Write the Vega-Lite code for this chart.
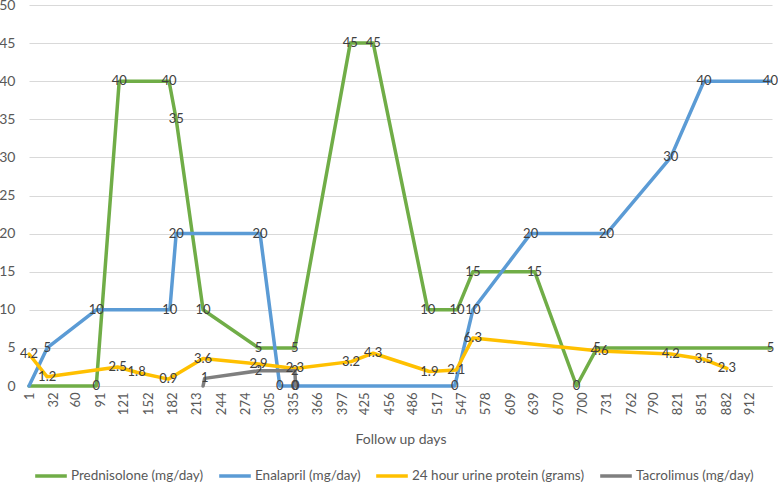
{
  "$schema": "https://vega.github.io/schema/vega-lite/v6.json",
  "width": 743,
  "height": 381,
  "autosize": {"type": "none"},
  "padding": {"left": 29, "top": 5, "right": 6, "bottom": 97},
  "background": "white",
  "config": {
    "view": {"stroke": null},
    "font": "Lato",
    "axis": {"labelFont": "Lato", "titleFont": "Lato", "labelColor": "#595959", "titleColor": "#595959"}
  },
  "data": {
    "values": [
      {"series": "Prednisolone (mg/day)", "day": 1, "value": 0, "lbl": false},
      {"series": "Prednisolone (mg/day)", "day": 86, "value": 0, "lbl": true},
      {"series": "Prednisolone (mg/day)", "day": 115, "value": 40, "lbl": true},
      {"series": "Prednisolone (mg/day)", "day": 178, "value": 40, "lbl": true},
      {"series": "Prednisolone (mg/day)", "day": 187, "value": 35, "lbl": true},
      {"series": "Prednisolone (mg/day)", "day": 221, "value": 10, "lbl": true},
      {"series": "Prednisolone (mg/day)", "day": 291, "value": 5, "lbl": true},
      {"series": "Prednisolone (mg/day)", "day": 337, "value": 5, "lbl": true},
      {"series": "Prednisolone (mg/day)", "day": 407, "value": 45, "lbl": true},
      {"series": "Prednisolone (mg/day)", "day": 436, "value": 45, "lbl": true},
      {"series": "Prednisolone (mg/day)", "day": 505, "value": 10, "lbl": true},
      {"series": "Prednisolone (mg/day)", "day": 542, "value": 10, "lbl": true},
      {"series": "Prednisolone (mg/day)", "day": 562, "value": 15, "lbl": true},
      {"series": "Prednisolone (mg/day)", "day": 640, "value": 15, "lbl": true},
      {"series": "Prednisolone (mg/day)", "day": 693, "value": 0, "lbl": true},
      {"series": "Prednisolone (mg/day)", "day": 719, "value": 5, "lbl": true},
      {"series": "Prednisolone (mg/day)", "day": 938, "value": 5, "lbl": true},

      {"series": "Enalapril (mg/day)", "day": 1, "value": 0, "lbl": false},
      {"series": "Enalapril (mg/day)", "day": 24, "value": 5, "lbl": true},
      {"series": "Enalapril (mg/day)", "day": 86, "value": 10, "lbl": true},
      {"series": "Enalapril (mg/day)", "day": 179, "value": 10, "lbl": true},
      {"series": "Enalapril (mg/day)", "day": 187, "value": 20, "lbl": true},
      {"series": "Enalapril (mg/day)", "day": 293, "value": 20, "lbl": true},
      {"series": "Enalapril (mg/day)", "day": 318, "value": 0, "lbl": true},
      {"series": "Enalapril (mg/day)", "day": 337, "value": 0, "lbl": true},
      {"series": "Enalapril (mg/day)", "day": 539, "value": 0, "lbl": true},
      {"series": "Enalapril (mg/day)", "day": 562, "value": 10, "lbl": true},
      {"series": "Enalapril (mg/day)", "day": 635, "value": 20, "lbl": true},
      {"series": "Enalapril (mg/day)", "day": 731, "value": 20, "lbl": true},
      {"series": "Enalapril (mg/day)", "day": 812, "value": 30, "lbl": true},
      {"series": "Enalapril (mg/day)", "day": 854, "value": 40, "lbl": true},
      {"series": "Enalapril (mg/day)", "day": 938, "value": 40, "lbl": true},

      {"series": "24 hour urine protein (grams)", "day": 1, "value": 4.2, "lbl": true},
      {"series": "24 hour urine protein (grams)", "day": 24, "value": 1.2, "lbl": true},
      {"series": "24 hour urine protein (grams)", "day": 113, "value": 2.5, "lbl": true},
      {"series": "24 hour urine protein (grams)", "day": 137, "value": 1.8, "lbl": true},
      {"series": "24 hour urine protein (grams)", "day": 177, "value": 0.9, "lbl": true},
      {"series": "24 hour urine protein (grams)", "day": 221, "value": 3.6, "lbl": true},
      {"series": "24 hour urine protein (grams)", "day": 291, "value": 2.9, "lbl": true},
      {"series": "24 hour urine protein (grams)", "day": 337, "value": 2.3, "lbl": true},
      {"series": "24 hour urine protein (grams)", "day": 408, "value": 3.2, "lbl": true},
      {"series": "24 hour urine protein (grams)", "day": 436, "value": 4.3, "lbl": true},
      {"series": "24 hour urine protein (grams)", "day": 507, "value": 1.9, "lbl": true},
      {"series": "24 hour urine protein (grams)", "day": 541, "value": 2.1, "lbl": true},
      {"series": "24 hour urine protein (grams)", "day": 562, "value": 6.3, "lbl": true},
      {"series": "24 hour urine protein (grams)", "day": 722, "value": 4.6, "lbl": true},
      {"series": "24 hour urine protein (grams)", "day": 812, "value": 4.2, "lbl": true},
      {"series": "24 hour urine protein (grams)", "day": 854, "value": 3.5, "lbl": true},
      {"series": "24 hour urine protein (grams)", "day": 883, "value": 2.3, "lbl": true},

      {"series": "Tacrolimus (mg/day)", "day": 221, "value": 0, "lbl": false},
      {"series": "Tacrolimus (mg/day)", "day": 223, "value": 1, "lbl": true},
      {"series": "Tacrolimus (mg/day)", "day": 291, "value": 2, "lbl": true},
      {"series": "Tacrolimus (mg/day)", "day": 337, "value": 2, "lbl": true},
      {"series": "Tacrolimus (mg/day)", "day": 338, "value": 0, "lbl": true}
    ]
  },
  "encoding": {
    "x": {
      "field": "day",
      "type": "quantitative",
      "scale": {"domain": [1, 940], "nice": false, "zero": false},
      "axis": {
        "title": "Follow up days",
        "titleFontSize": 14,
        "titleFontWeight": "normal",
        "titlePadding": 18,
        "values": [1, 32, 60, 91, 121, 152, 182, 213, 244, 274, 305, 335, 366, 397, 425, 456, 486, 517, 547, 578, 609, 639, 670, 700, 731, 762, 790, 821, 851, 882, 912],
        "format": "d",
        "labelAngle": -90,
        "labelFontSize": 13,
        "labelPadding": 6,
        "labelOverlap": false,
        "labelBound": false,
        "labelFlush": false,
        "ticks": false,
        "grid": false,
        "domain": true,
        "domainColor": "#D9D9D9",
        "domainWidth": 1
      }
    },
    "y": {
      "field": "value",
      "type": "quantitative",
      "scale": {"domain": [0, 50], "nice": false},
      "axis": {
        "title": null,
        "values": [0, 5, 10, 15, 20, 25, 30, 35, 40, 45, 50],
        "labelFontSize": 14,
        "labelPadding": 14,
        "ticks": false,
        "domain": false,
        "grid": true,
        "gridColor": "#D9D9D9",
        "gridWidth": 1
      }
    }
  },
  "layer": [
    {
      "mark": {"type": "line", "strokeWidth": 3.5, "strokeJoin": "round", "strokeCap": "round"},
      "encoding": {
        "color": {
          "field": "series",
          "type": "nominal",
          "sort": ["Prednisolone (mg/day)", "Enalapril (mg/day)", "24 hour urine protein (grams)", "Tacrolimus (mg/day)"],
          "scale": {
            "domain": ["Prednisolone (mg/day)", "Enalapril (mg/day)", "24 hour urine protein (grams)", "Tacrolimus (mg/day)"],
            "range": ["#70AD47", "#5B9BD5", "#FFC000", "#7F7F7F"]
          },
          "legend": {
            "title": null,
            "orient": "none",
            "direction": "horizontal",
            "legendX": 4,
            "legendY": 453,
            "symbolType": "stroke",
            "symbolStrokeWidth": 3.5,
            "symbolSize": 1000,
            "labelFontSize": 13.5,
            "labelColor": "#595959",
            "labelFont": "Lato",
            "labelOffset": 2,
            "columnPadding": 8,
            "labelLimit": 300
          }
        },
        "detail": {"field": "series"},
        "order": {"field": "day"}
      }
    },
    {
      "transform": [{"filter": "datum.lbl"}],
      "mark": {"type": "text", "fontSize": 13, "color": "#404040", "align": "center", "baseline": "middle", "font": "Lato"},
      "encoding": {
        "text": {"field": "value", "type": "quantitative"}
      }
    }
  ]
}
